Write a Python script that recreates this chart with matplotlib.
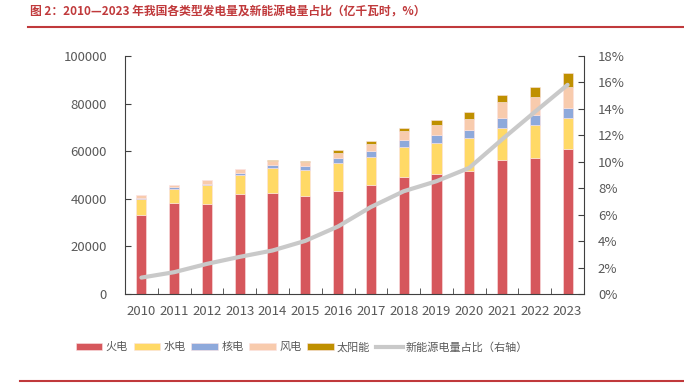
import numpy as np
import matplotlib
matplotlib.use("Agg")
import matplotlib.pyplot as plt
from matplotlib.lines import Line2D

plt.rcParams['font.family'] = ['Noto Sans CJK SC', 'DejaVu Sans']

years = [str(y) for y in range(2010, 2024)]
thermal = [33300, 38100, 37800, 42200, 42300, 41100, 43200, 45600, 49200, 50400, 51800, 56400, 57200, 61000]
hydro = [6650, 6200, 7800, 7700, 10600, 10900, 11800, 11900, 12500, 13200, 13600, 13500, 13700, 12800]
nuclear = [550, 800, 800, 1100, 1400, 1700, 2100, 2500, 2900, 3200, 3500, 3900, 4200, 4300]
wind = [980, 900, 1300, 1700, 1400, 1700, 2200, 2900, 3800, 4400, 4800, 6800, 7600, 8800]
solar = [0, 0, 0, 0, 400, 600, 1000, 1400, 1500, 2100, 2700, 3200, 4200, 6000]
share = [1.24, 1.65, 2.28, 2.81, 3.29, 4.02, 5.11, 6.58, 7.77, 8.53, 9.54, 11.69, 13.77, 15.82]

names = ['火电', '水电', '核电', '风电', '太阳能']
colors = ['#D6575C', '#FFD966', '#8EA9DB', '#F8CBAD', '#BF9000']
line_name = '新能源电量占比（右轴）'

fig = plt.figure(figsize=(6.84, 3.89), dpi=100)
ax = fig.add_axes([125/684, 1-294/389, 459/684, 238/389])
x = np.arange(len(years))

bottom = np.zeros(len(years))
handles = []
for vals, c, n in zip([thermal, hydro, nuclear, wind, solar], colors, names):
    b = ax.bar(x, vals, 0.31, bottom=bottom, color=c, edgecolor='#fbe3e3', linewidth=0.4, label=n)
    bottom += np.array(vals)
    handles.append(b)

ax.set_xlim(-0.5, len(years) - 0.5)
ax.set_ylim(0, 100000)
ax.set_yticks(np.arange(0, 100001, 20000))
ax.set_xticks(x)
ax.set_xticklabels(years)
ax.set_xticks(np.arange(-0.5, len(years), 1), minor=True)
ax.tick_params(axis='x', which='major', length=0, pad=8, labelsize=9.5, labelcolor='#595959')
ax.tick_params(axis='x', which='minor', direction='in', length=4, color='#404040')
ax.tick_params(axis='y', direction='in', length=4, pad=13, labelsize=9.5, labelcolor='#595959', color='#404040')
for s in ['top', 'right']:
    ax.spines[s].set_visible(False)
for s in ['left', 'bottom']:
    ax.spines[s].set_color('#404040')

ax2 = ax.twinx()
ax2.plot(x, share, color='#C9C9C9', linewidth=3.0, solid_capstyle='round')
ax2.set_ylim(0, 18)
ax2.set_yticks(np.arange(0, 19, 2))
ax2.set_yticklabels([f'{v}%' for v in range(0, 19, 2)])
ax2.tick_params(axis='y', direction='in', length=4, pad=10, labelsize=9.5, labelcolor='#595959', color='#404040')
for s in ['top', 'left', 'bottom']:
    ax2.spines[s].set_visible(False)
ax2.spines['right'].set_color('#404040')

line_handle = Line2D([], [], color='#C9C9C9', linewidth=3.0)
fig.legend(handles + [line_handle], names + [line_name], loc='center',
           bbox_to_anchor=(302/684, 1-347/389), ncol=6, frameon=False,
           fontsize=8, labelcolor='#595959', handlelength=2.4, handleheight=0.6,
           handletextpad=0.3, columnspacing=0.5)

fig.text(30/684, 1-12/389, '图 2：2010—2023 年我国各类型发电量及新能源电量占比（亿千瓦时，%）',
         fontsize=8.5, fontweight='bold', color='#C0393B', va='center', ha='left')
fig.add_artist(Line2D([28/684, 1], [1-26.5/389, 1-26.5/389], color='#C0393B', linewidth=1.5))
fig.add_artist(Line2D([20/684, 1], [1-380.5/389, 1-380.5/389], color='#C0393B', linewidth=1.5))

fig.savefig('out.png', dpi=100)
